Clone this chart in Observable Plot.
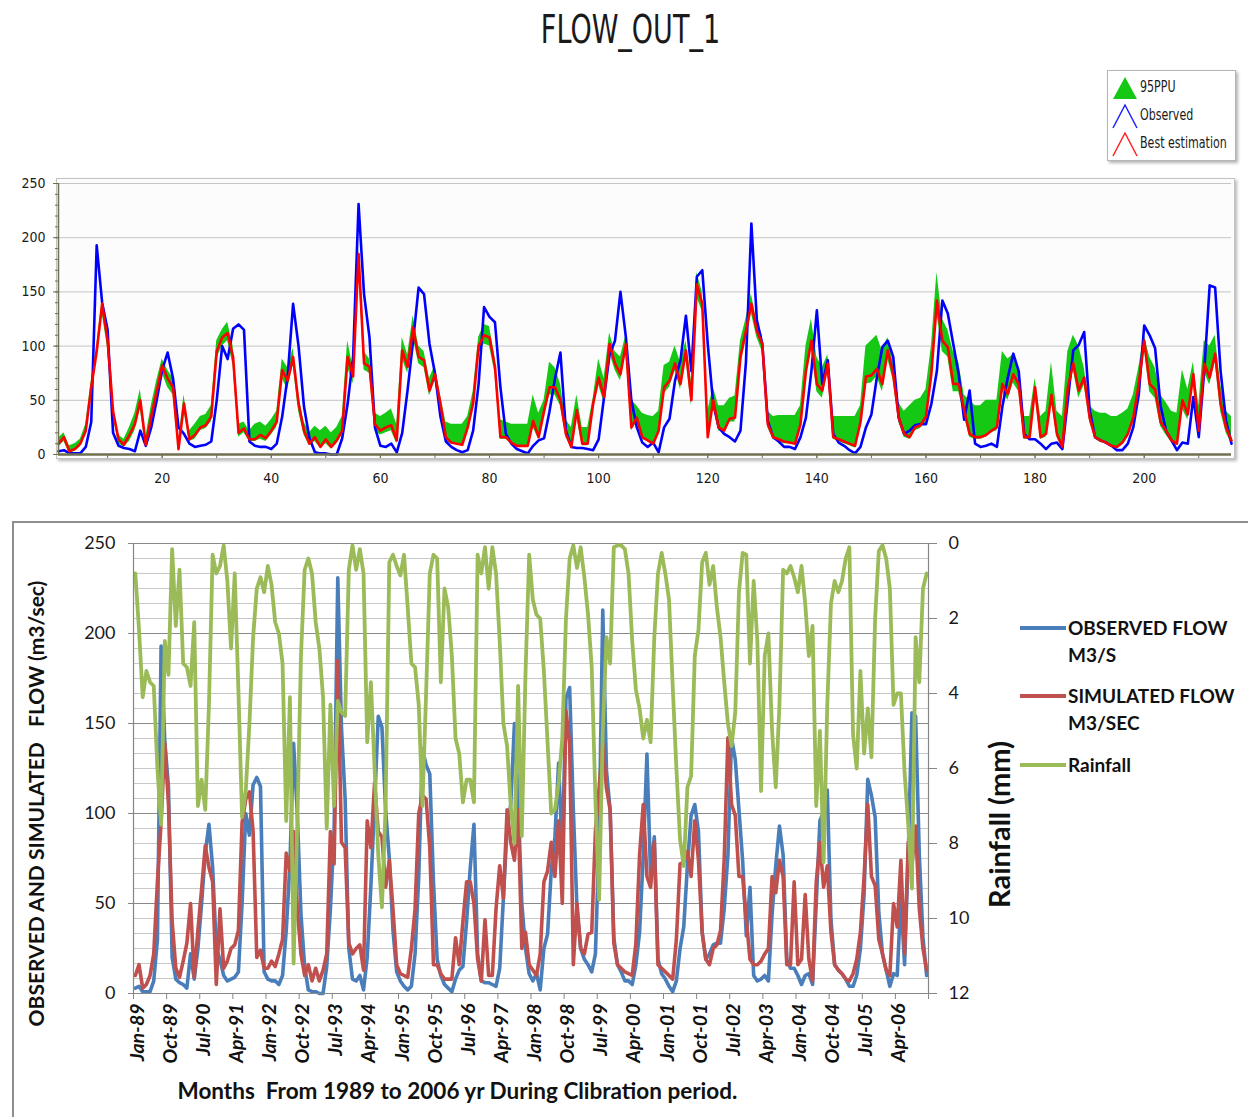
<!DOCTYPE html>
<html>
<head>
<meta charset="utf-8">
<script src="https://cdn.jsdelivr.net/npm/d3@7"></script>
<script src="https://cdn.jsdelivr.net/npm/@observablehq/plot@0.6"></script>
<style>
  html,body{margin:0;padding:0;background:#fff;}
  #page{position:relative;width:1248px;height:1117px;overflow:hidden;background:#fff;}
  #title{position:absolute;left:6px;width:1248px;top:6px;text-align:center;}
  #title span{display:inline-block;font-family:"Liberation Sans Narrow","DejaVu Sans Condensed",sans-serif;font-size:33px;color:#1a1a1a;transform:scale(0.91,1.18);transform-origin:50% 0;}
  #topFrame{position:absolute;left:56px;top:178px;width:1177px;height:279px;border:1px solid #c2c2c2;box-shadow:2px 2px 3px rgba(0,0,0,0.28);background:#fcfcfc;}
  #topChart{position:absolute;left:0;top:165px;}
  #topLegend{position:absolute;left:1107px;top:70px;width:127px;height:89px;border:1px solid #b5b5b5;background:#fff;box-shadow:2px 2px 3px rgba(0,0,0,0.3);}
  .tl{position:absolute;left:32px;font-family:"Liberation Sans Narrow","DejaVu Sans Condensed",sans-serif;font-size:15px;color:#1a1a1a;line-height:16px;white-space:nowrap;transform:scaleX(0.82);transform-origin:0 50%;}
  .ti{position:absolute;left:4px;}
  #bottomBox{position:absolute;left:12px;top:521px;width:1260px;height:620px;border:2px solid #8e8e8e;box-sizing:border-box;}
  #bottomChart{position:absolute;left:0;top:521px;}
  .lg{position:absolute;left:1068px;font-family:Lato,"Open Sans",sans-serif;font-weight:bold;font-size:19px;color:#111;line-height:27px;white-space:nowrap;}
  .sw{position:absolute;left:1020px;height:4px;width:46px;}
</style>
</head>
<body>
<div id="page">
  <div id="title"><span>FLOW_OUT_1</span></div>
  <div id="topFrame"></div>
  <div id="topChart"></div>
  <div id="topLegend">
    <svg class="ti" style="top:5px" width="26" height="24"><polygon points="1,23 13,1 25,23" fill="#14c814"/></svg>
    <div class="tl" style="top:8px">95PPU</div>
    <svg class="ti" style="top:32px" width="26" height="26"><polyline points="1,25 13,2 25,25" fill="none" stroke="#2020ff" stroke-width="1.5"/></svg>
    <div class="tl" style="top:36px">Observed</div>
    <svg class="ti" style="top:60px" width="26" height="26"><polyline points="1,25 13,2 25,25" fill="none" stroke="#ff2020" stroke-width="1.5"/></svg>
    <div class="tl" style="top:64px">Best estimation</div>
  </div>
  <div id="bottomBox"></div>
  <div id="bottomChart"></div>
  <div class="sw" style="top:626px;background:#4a7ebb"></div>
  <div class="lg" style="top:614px">OBSERVED FLOW<br>M3/S</div>
  <div class="sw" style="top:694px;background:#c0504d"></div>
  <div class="lg" style="top:682px">SIMULATED FLOW<br>M3/SEC</div>
  <div class="sw" style="top:763px;background:#9bbb59"></div>
  <div class="lg" style="top:751px">Rainfall</div>
</div>
<script>
// Monthly values, Jan-1989 .. Dec-2006 (216 months)
const observed = [
  3, 4, 1, 1, 1, 7, 30, 193, 140, 115, 20, 8,
  6, 5, 3, 22, 8, 25, 50, 78, 94, 70, 25, 19,
  10, 7, 8, 9, 12, 50, 100, 88, 116, 120, 115, 12,
  8, 7, 7, 5, 10, 35, 72, 139, 100, 44, 15, 2,
  1, 1, 0, 0, 15, 47, 90, 231, 148, 108, 25, 8,
  7, 10, 2, 20, 60, 105, 154, 148, 102, 75, 35, 12,
  7, 4, 2, 4, 22, 65, 136, 127, 122, 62, 19, 10,
  5, 3, 1, 8, 13, 15, 40, 70, 94, 22, 7, 6,
  6, 5, 4, 14, 53, 92, 105, 150, 108, 50, 25, 11,
  7, 11, 2, 25, 33, 68, 87, 128, 77, 164, 170, 102,
  47, 25, 19, 16, 12, 22, 85, 213, 124, 102, 31, 16,
  12, 7, 7, 5, 16, 34, 77, 133, 65, 87, 19, 11,
  8, 4, 1, 7, 25, 37, 71, 99, 105, 90, 34, 19,
  22, 27, 28, 28, 47, 77, 142, 130, 102, 74, 32, 59,
  10, 7, 8, 10, 7, 44, 71, 93, 77, 19, 14, 14,
  10, 5, 10, 11, 5, 50, 96, 101, 113, 41, 16, 13,
  11, 8, 4, 4, 10, 25, 55, 119, 110, 98, 45, 22,
  13, 4, 11, 10, 53, 16, 77, 156, 154, 77, 31, 10
];
const simulated = [
  10, 16, 3, 5, 10, 22, 62, 95, 139, 105, 40, 14,
  9, 18, 28, 50, 9, 35, 58, 82, 70, 62, 5, 47,
  14, 18, 25, 27, 35, 95, 108, 112, 90, 20, 24, 14,
  14, 18, 15, 22, 30, 78, 68, 90, 47, 22, 10, 16,
  7, 14, 7, 13, 22, 90, 72, 185, 84, 81, 28, 22,
  25, 27, 13, 96, 81, 117, 90, 87, 59, 74, 47, 16,
  11, 10, 9, 25, 47, 100, 110, 108, 81, 16, 16, 11,
  8, 8, 8, 31, 16, 40, 62, 62, 50, 19, 7, 41,
  10, 10, 47, 71, 53, 102, 84, 74, 102, 25, 34, 16,
  13, 10, 22, 62, 68, 84, 65, 96, 50, 157, 139, 16,
  50, 25, 22, 33, 34, 90, 114, 139, 114, 102, 28, 16,
  14, 12, 11, 10, 28, 77, 105, 65, 59, 84, 16, 14,
  12, 10, 8, 30, 72, 73, 79, 65, 96, 74, 34, 19,
  16, 25, 27, 35, 75, 142, 105, 99, 65, 65, 41, 19,
  16, 16, 18, 22, 25, 65, 56, 74, 65, 16, 16, 62,
  16, 19, 55, 19, 7, 62, 84, 59, 71, 34, 16, 13,
  11, 8, 7, 11, 19, 34, 65, 105, 65, 60, 30, 22,
  13, 10, 50, 37, 74, 22, 84, 71, 93, 47, 25, 13
];
const ppuLower = [
  7, 12, 1, 3, 7, 18, 55, 88, 130, 98, 35, 10,
  7, 12, 22, 42, 7, 30, 50, 75, 62, 55, 3, 40,
  12, 14, 22, 24, 30, 88, 100, 105, 82, 16, 20, 12,
  12, 14, 12, 18, 25, 70, 60, 82, 40, 18, 8, 12,
  6, 10, 5, 10, 18, 80, 65, 175, 78, 75, 22, 18,
  20, 22, 10, 88, 75, 108, 84, 80, 54, 68, 40, 12,
  10, 9, 8, 20, 42, 92, 102, 100, 75, 14, 14, 10,
  7, 7, 7, 25, 14, 35, 55, 55, 45, 16, 6, 34,
  8, 8, 40, 64, 48, 94, 78, 68, 94, 22, 30, 14,
  12, 9, 18, 56, 62, 77, 60, 88, 45, 145, 132, 14,
  45, 22, 20, 30, 30, 82, 106, 130, 108, 95, 25, 14,
  12, 10, 10, 9, 24, 70, 98, 58, 52, 76, 14, 12,
  10, 8, 6, 25, 65, 66, 72, 58, 88, 68, 30, 16,
  14, 22, 24, 30, 68, 130, 95, 90, 58, 58, 36, 16,
  14, 14, 16, 20, 22, 58, 50, 66, 58, 14, 14, 55,
  14, 16, 50, 16, 5, 55, 78, 52, 64, 30, 14, 11,
  10, 7, 6, 9, 16, 30, 58, 98, 58, 52, 26, 18,
  11, 8, 42, 32, 66, 18, 76, 64, 85, 40, 20, 10
];
const ppuUpper = [
  15, 20, 8, 10, 14, 28, 68, 100, 142, 110, 45, 18,
  14, 25, 38, 60, 16, 45, 68, 88, 78, 70, 12, 55,
  22, 28, 35, 37, 45, 105, 115, 122, 100, 28, 30, 22,
  28, 30, 26, 32, 40, 88, 80, 98, 55, 30, 20, 26,
  22, 26, 20, 25, 35, 105, 80, 190, 95, 88, 38, 35,
  38, 42, 28, 108, 92, 128, 100, 95, 70, 82, 55, 30,
  28, 28, 28, 35, 58, 108, 120, 118, 90, 32, 30, 28,
  28, 28, 28, 55, 38, 50, 85, 80, 65, 32, 25, 55,
  25, 25, 52, 88, 70, 112, 95, 90, 110, 50, 45, 38,
  36, 35, 40, 82, 85, 100, 85, 105, 68, 168, 150, 40,
  62, 45, 45, 52, 54, 105, 125, 148, 122, 110, 40, 35,
  36, 36, 36, 36, 45, 100, 125, 90, 80, 92, 35, 35,
  35, 35, 35, 45, 100, 105, 110, 95, 108, 85, 48, 40,
  45, 50, 52, 60, 100, 168, 125, 115, 95, 85, 55, 50,
  45, 45, 50, 50, 50, 95, 88, 92, 80, 35, 35, 70,
  35, 40, 85, 40, 35, 95, 110, 100, 80, 45, 40, 38,
  38, 35, 35, 38, 42, 55, 80, 110, 90, 80, 55, 48,
  40, 38, 78, 60, 85, 45, 105, 100, 110, 65, 40, 35
];
const rainfall = [
  0.8, 2.3, 4.1, 3.4, 3.7, 3.8, 6.0, 7.5, 2.6, 3.5, 0.15, 2.2,
  0.7, 3.2, 3.3, 3.8, 2.1, 7.0, 6.3, 7.1, 4.3, 0.3, 0.8, 0.6,
  0.05, 1.0, 2.8, 0.8, 3.9, 7.3, 6.6, 4.8, 2.5, 1.2, 0.9, 1.3,
  0.6, 1.1, 2.1, 2.4, 3.2, 7.4, 4.1, 11.2, 7.5, 3.0, 0.7, 0.4,
  0.8, 2.1, 2.8, 4.1, 7.6, 4.3, 7.0, 4.2, 4.5, 4.6, 0.7, 0.05,
  0.7, 0.15, 0.8, 5.3, 3.7, 6.0, 8.3, 9.7, 7.0, 0.5, 0.3, 0.6,
  0.85, 0.3, 1.7, 3.2, 3.3, 4.3, 7.0, 4.0, 0.8, 0.3, 0.4, 3.7,
  1.2, 1.7, 3.0, 5.2, 5.6, 6.9, 6.3, 6.3, 6.9, 0.3, 0.8, 0.1,
  1.2, 0.1, 0.8, 2.6, 4.8, 5.4, 7.0, 8.0, 3.8, 7.8, 3.5, 0.3,
  1.5, 1.9, 2.0, 3.4, 5.3, 7.2, 7.1, 6.4, 5.2, 2.0, 0.4, 0.05,
  0.65, 0.1, 0.9, 1.9, 3.3, 6.8, 9.5, 5.0, 2.5, 3.2, 0.1, 0.05,
  0.05, 0.15, 0.8, 2.6, 3.9, 4.4, 5.2, 4.7, 5.3, 2.5, 0.8, 0.25,
  0.8, 1.5, 3.8, 6.0, 7.9, 8.6, 6.5, 6.2, 3.0, 2.3, 0.5, 0.25,
  1.1, 0.6, 1.7, 2.5, 3.7, 4.8, 5.4, 4.5, 1.3, 0.25, 0.3, 3.2,
  1.0, 2.6, 6.6, 3.0, 2.4, 5.0, 6.5, 4.3, 0.7, 0.8, 0.6, 0.9,
  1.3, 0.6, 1.6, 3.0, 2.2, 7.0, 5.0, 8.5, 4.3, 1.6, 1.0, 1.3,
  1.0, 0.4, 0.1, 5.1, 6.0, 3.4, 5.6, 4.4, 5.7, 2.0, 0.2, 0.05,
  0.4, 1.2, 4.3, 4.0, 4.0, 6.1, 7.5, 9.2, 2.5, 3.7, 1.2, 0.8
];
const monthTickLabels = ["Jan-89","Oct-89","Jul-90","Apr-91","Jan-92","Oct-92","Jul-93","Apr-94",
  "Jan-95","Oct-95","Jul-96","Apr-97","Jan-98","Oct-98","Jul-99","Apr-00",
  "Jan-01","Oct-01","Jul-02","Apr-03","Jan-04","Oct-04","Jul-05","Apr-06"];
const flowTicks = [0, 50, 100, 150, 200, 250];
const rainTicks = [0, 2, 4, 6, 8, 10, 12];

// ---------- Top chart (SWAT-CUP style) ----------
const topData = observed.map((o, k) => ({i: k + 1, obs: o, sim: simulated[k], lo: ppuLower[k], hi: ppuUpper[k]}));
const narrow = '"Liberation Sans Narrow","DejaVu Sans Condensed",sans-serif';
const axisCol = "#707050";
const topPlot = Plot.plot({
  width: 1248, height: 330,
  marginLeft: 58, marginRight: 17, marginTop: 18, marginBottom: 41,
  x: {domain: [1, 216], label: null},
  y: {domain: [0, 250], label: null},
  style: {fontFamily: narrow, fontSize: "14px", color: "#1a1a1a", background: "transparent", overflow: "visible"},
  marks: [
    Plot.gridY([50, 100, 150, 200, 250], {stroke: "#c4c4c4", strokeOpacity: 1}),
    Plot.areaY(topData, {x: "i", y1: "lo", y2: "hi", fill: "#14c814", curve: "linear"}),
    Plot.line(topData, {x: "i", y: "obs", stroke: "#0000ff", strokeWidth: 2.6}),
    Plot.line(topData, {x: "i", y: "sim", stroke: "#ff0000", strokeWidth: 2.6}),
    Plot.axisY({ticks: flowTicks, tickSize: 5, tickPadding: 8, stroke: axisCol, label: null}),
    Plot.axisY({ticks: d3.range(0, 251, 10), tickSize: 3, tickFormat: () => "", stroke: axisCol, label: null}),
    Plot.axisX({ticks: d3.range(20, 201, 20), tickSize: 4, tickPadding: 15, stroke: axisCol, label: null}),
    Plot.axisX({ticks: d3.range(10, 211, 10), tickSize: 4, tickFormat: () => "", stroke: axisCol, label: null}),
    Plot.ruleX([1], {stroke: axisCol, strokeWidth: 1.5}),
    Plot.ruleY([0], {stroke: axisCol, strokeWidth: 2.5})
  ]
});
document.getElementById("topChart").appendChild(topPlot);

// ---------- Bottom chart (Excel style, dual axis) ----------
const rainToY = r => 250 - r * 250 / 12;
const botData = observed.map((o, k) => ({t: k + 0.5, obs: o, sim: simulated[k], rain: rainToY(rainfall[k])}));
const tickData = monthTickLabels.map((lab, j) => ({t: j * 9 + 0.5, lab}));
const gridMinor = d3.range(0, 31).map(k => rainToY(k * 0.4));
const gray = "#868686";
const botPlot = Plot.plot({
  width: 1248, height: 596,
  marginLeft: 133, marginRight: 320, marginTop: 22, marginBottom: 124,
  x: {domain: [0, 216], label: null},
  y: {domain: [0, 250], label: null},
  style: {fontFamily: 'Lato,"Open Sans",sans-serif', fontSize: "18px", color: "#1a1a1a", background: "transparent", overflow: "visible"},
  marks: [
    Plot.ruleY(gridMinor, {stroke: "#c8c8c8", strokeWidth: 1}),
    Plot.ruleY(flowTicks, {stroke: "#8a8a8a", strokeWidth: 1}),
    Plot.line(botData, {x: "t", y: "obs", stroke: "#4a7ebb", strokeWidth: 3.6}),
    Plot.line(botData, {x: "t", y: "sim", stroke: "#c0504d", strokeWidth: 3.6}),
    Plot.line(botData, {x: "t", y: "rain", stroke: "#9bbb59", strokeWidth: 3.8}),
    Plot.ruleX([0, 216], {stroke: gray, strokeWidth: 1.2}),
    Plot.ruleY([0], {stroke: gray, strokeWidth: 1.2}),
    Plot.axisY({anchor: "left", ticks: flowTicks, tickSize: 5, tickPadding: 13, stroke: gray, label: null}),
    Plot.axisY({anchor: "right", ticks: rainTicks.map(rainToY), tickFormat: d => String(Math.round((250 - d) * 12 / 250)), tickSize: 8, tickPadding: 12, stroke: gray, label: null}),
    Plot.axisX({ticks: d3.range(0, 217, 9), tickSize: 6, tickFormat: () => "", stroke: gray, label: null}),
    Plot.text(tickData, {x: "t", y: 0, text: "lab", rotate: -90, textAnchor: "end", dy: 10, dx: 2, fontSize: 19.5, fontWeight: "bold", fontStyle: "italic", fill: "#111"}),
    Plot.text(["OBSERVED AND SIMULATED\u00a0\u00a0\u00a0FLOW (m3/sec)"], {frameAnchor: "left", textAnchor: "middle", rotate: -90, dx: -96, dy: 35, fontSize: 21, fontWeight: "bold", fill: "#111"}),
    Plot.text(["Rainfall (mm)"], {frameAnchor: "right", textAnchor: "middle", rotate: -90, dx: 72, dy: 56, fontSize: 29, fontWeight: "bold", fill: "#111"}),
    Plot.text(["Months\u00a0\u00a0From 1989 to 2006 yr During Clibration period."], {frameAnchor: "bottom-left", textAnchor: "start", dx: 44, dy: 105, fontSize: 22.5, fontWeight: "bold", fill: "#111"})
  ]
});
document.getElementById("bottomChart").appendChild(botPlot);
</script>
</body>
</html>
